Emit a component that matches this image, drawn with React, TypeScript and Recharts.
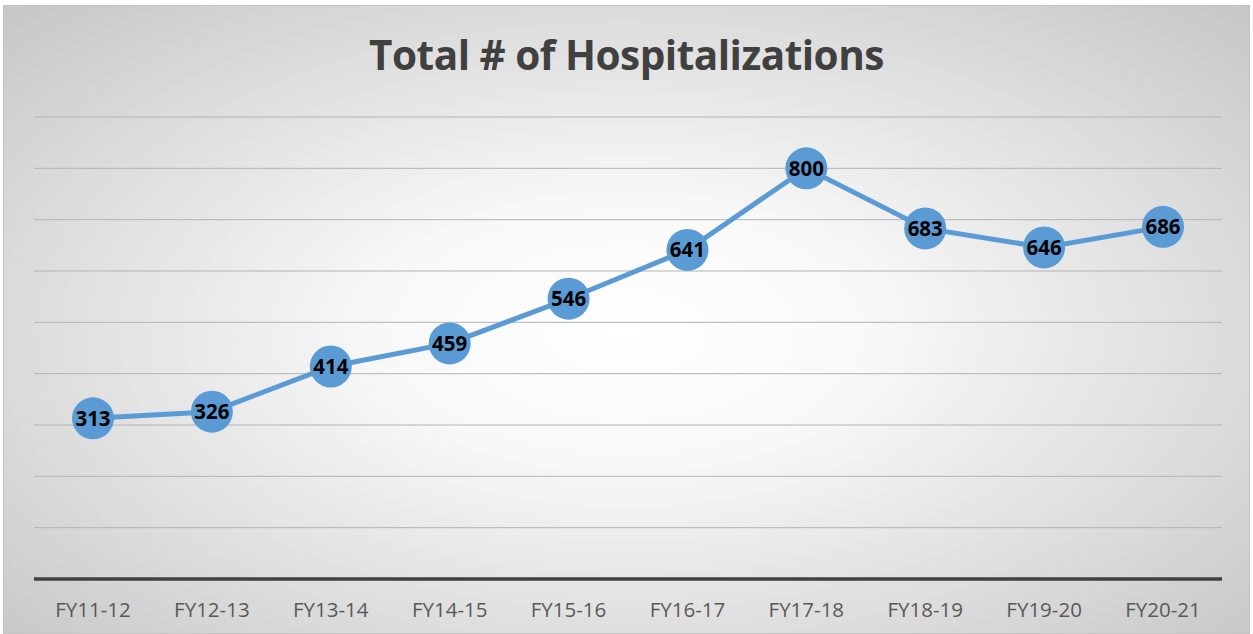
import React from "react";
import { LineChart, Line, XAxis, YAxis, CartesianGrid, LabelList } from "recharts";

const years = ["FY11-12", "FY12-13", "FY13-14", "FY14-15", "FY15-16", "FY16-17", "FY17-18", "FY18-19", "FY19-20", "FY20-21"];
const hospitalizations = [313, 326, 414, 459, 546, 641, 800, 683, 646, 686];
const yTicks = [0, 100, 200, 300, 400, 500, 600, 700, 800, 900];

const data = years.map((name, i) => ({ name, value: hospitalizations[i] }));

const BigDot = (props: any) => {
  const { cx, cy } = props;
  if (cx == null || cy == null) return null;
  return <circle cx={cx} cy={cy} r={21} fill="#5B9BD5" />;
};

export default function App() {
  return (
    <div style={{ position: "absolute", left: 0, top: 0, width: 1253, height: 634, background: "#fff" }}>
      <div
        style={{
          position: "absolute",
          left: 3,
          top: 5,
          width: 1245,
          height: 627,
          border: "1px solid #c4c4c4",
          background:
            "radial-gradient(ellipse farthest-corner at 50% 52%, #ffffff 0%, #f8f8f8 28%, #dedede 66%, #c6c6c6 100%)",
        }}
      >
        <div
          style={{
            position: "absolute",
            left: 0,
            top: 21,
            width: "100%",
            textAlign: "center",
            fontFamily: "'Open Sans', sans-serif",
            fontWeight: 700,
            fontSize: 40.5,
            color: "#404040",
            letterSpacing: -0.5,
          }}
        >
          Total # of Hospitalizations
        </div>
        <LineChart
          width={1245}
          height={627}
          data={data}
          margin={{ top: 111, right: 27, bottom: 14, left: 30 }}
          style={{ position: "absolute", left: 0, top: 0 }}
        >
          <CartesianGrid horizontal vertical={false} stroke="#b4b4b4" strokeWidth={1} />
          <YAxis hide domain={[0, 900]} ticks={yTicks} />
          <XAxis
            dataKey="name"
            height={40}
            padding={{ left: 59, right: 59 }}
            tickLine={false}
            tickSize={0}
            tickMargin={23}
            axisLine={{ stroke: "#404040", strokeWidth: 3.5 }}
            tick={{ fill: "#595959", fontSize: 20.5, fontFamily: "'Open Sans', sans-serif" }}
            interval={0}
          />
          <Line
            type="linear"
            dataKey="value"
            stroke="#5B9BD5"
            strokeWidth={5}
            dot={<BigDot />}
            activeDot={false}
            isAnimationActive={false}
          >
            <LabelList
              dataKey="value"
              position="center"
              fill="#000"
              fontSize={20.5}
              fontWeight={700}
              fontFamily="'Open Sans', sans-serif"
            />
          </Line>
        </LineChart>
      </div>
    </div>
  );
}
